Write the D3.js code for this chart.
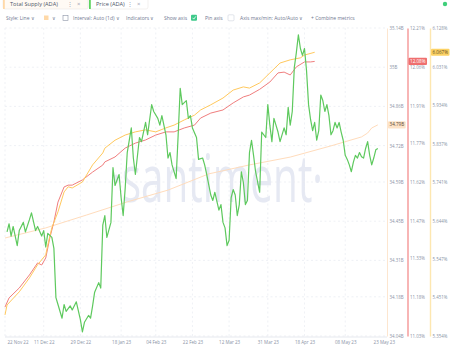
<!DOCTYPE html>
<html>
<head>
<meta charset="utf-8">
<script src="https://cdn.jsdelivr.net/npm/d3@7"></script>
<style>
  body { margin: 0; background: #fff; }
  svg { display: block; font-family: "Open Sans", "Noto Sans", sans-serif; }
</style>
</head>
<body>
<div id="chart"></div>
<script>
// ---- data ----
const xTicks = ["2022-11-22","2022-12-11","2022-12-29","2023-01-18","2023-02-04","2023-02-22",
                "2023-03-12","2023-03-31","2023-04-18","2023-05-08","2023-05-23"];

const supplyTicks = [34.04, 34.18, 34.31, 34.45, 34.59, 34.72, 34.86, 35, 35.14];
const redTicks    = [11.03, 11.18, 11.33, 11.47, 11.62, 11.77, 11.91, 12.06, 12.21];
const yellowTicks = [5.354, 5.451, 5.547, 5.644, 5.741, 5.837, 5.934, 6.031, 6.128];

// Total Supply (ADA), billions
const supply = [
  ["2022-11-22",34.390],["2022-12-12",34.426],["2023-01-01",34.472],["2023-01-21",34.519],
  ["2023-02-10",34.561],["2023-03-02",34.619],["2023-03-22",34.651],["2023-04-11",34.679],
  ["2023-05-01",34.719],["2023-05-16",34.751],["2023-05-19",34.765],["2023-05-21",34.783],
  ["2023-05-24",34.794]
];

// red metric, %
const redSeries = [
  ["2022-11-22",11.141],["2022-11-24",11.176],["2022-11-29",11.214],["2022-12-04",11.264],
  ["2022-12-08",11.310],["2022-12-10",11.302],["2022-12-12",11.329],["2022-12-14",11.406],
  ["2022-12-16",11.467],["2022-12-18",11.543],["2022-12-21",11.601],["2022-12-23",11.608],
  ["2022-12-25",11.608],["2022-12-30",11.628],["2023-01-04",11.658],["2023-01-09",11.685],
  ["2023-01-10",11.697],["2023-01-15",11.716],["2023-01-20",11.750],["2023-01-25",11.769],
  ["2023-01-30",11.781],["2023-02-04",11.800],["2023-02-09",11.812],["2023-02-13",11.812],
  ["2023-02-18",11.827],["2023-02-23",11.838],["2023-02-26",11.865],["2023-03-03",11.884],
  ["2023-03-09",11.896],["2023-03-14",11.923],["2023-03-19",11.946],["2023-03-22",11.953],
  ["2023-03-27",11.975],["2023-04-01",12.003],["2023-04-05",12.038],["2023-04-08",12.041],
  ["2023-04-11",12.030],["2023-04-14",12.061],["2023-04-18",12.080],["2023-04-21",12.080],
  ["2023-04-23",12.082]
];

// yellow metric, %
const yellowSeries = [
  ["2022-11-22",5.407],["2022-11-23",5.432],["2022-11-29",5.465],["2022-12-04",5.500],
  ["2022-12-08",5.533],["2022-12-12",5.558],["2022-12-13",5.583],["2022-12-15",5.626],
  ["2022-12-18",5.666],["2022-12-21",5.716],["2022-12-23",5.729],["2022-12-25",5.726],
  ["2022-12-30",5.741],["2023-01-04",5.784],["2023-01-09",5.814],["2023-01-10",5.826],
  ["2023-01-15",5.846],["2023-01-20",5.859],["2023-01-25",5.867],["2023-01-30",5.872],
  ["2023-02-04",5.867],["2023-02-09",5.877],["2023-02-13",5.884],["2023-02-18",5.897],
  ["2023-02-23",5.909],["2023-02-26",5.922],["2023-03-03",5.935],["2023-03-09",5.952],
  ["2023-03-14",5.972],["2023-03-19",5.980],["2023-03-22",5.977],["2023-03-27",5.990],
  ["2023-04-01",6.015],["2023-04-06",6.040],["2023-04-11",6.048],["2023-04-16",6.053],
  ["2023-04-18",6.060],["2023-04-23",6.067]
];

// Price (ADA), USD
const price = [
  ["2022-11-23",0.316],["2022-11-24",0.322],["2022-11-25",0.313],["2022-11-26",0.320],
  ["2022-11-28",0.306],["2022-11-29",0.317],["2022-12-01",0.323],["2022-12-02",0.316],
  ["2022-12-04",0.325],["2022-12-05",0.330],["2022-12-07",0.317],["2022-12-08",0.320],
  ["2022-12-10",0.313],["2022-12-11",0.317],["2022-12-12",0.305],["2022-12-13",0.315],
  ["2022-12-15",0.312],["2022-12-16",0.304],["2022-12-17",0.268],["2022-12-18",0.263],
  ["2022-12-20",0.253],["2022-12-21",0.263],["2022-12-22",0.258],["2022-12-24",0.262],
  ["2022-12-25",0.259],["2022-12-27",0.265],["2022-12-29",0.252],["2022-12-30",0.243],
  ["2022-12-31",0.250],["2023-01-02",0.255],["2023-01-03",0.253],["2023-01-04",0.262],
  ["2023-01-05",0.272],["2023-01-07",0.279],["2023-01-08",0.275],["2023-01-09",0.321],
  ["2023-01-10",0.328],["2023-01-11",0.312],["2023-01-13",0.323],["2023-01-14",0.363],
  ["2023-01-15",0.350],["2023-01-17",0.358],["2023-01-18",0.341],["2023-01-19",0.328],
  ["2023-01-20",0.348],["2023-01-21",0.374],["2023-01-23",0.392],["2023-01-24",0.370],
  ["2023-01-25",0.358],["2023-01-27",0.385],["2023-01-28",0.382],["2023-01-30",0.396],
  ["2023-01-31",0.387],["2023-02-02",0.409],["2023-02-03",0.404],["2023-02-05",0.399],
  ["2023-02-06",0.394],["2023-02-07",0.401],["2023-02-09",0.387],["2023-02-10",0.370],
  ["2023-02-11",0.374],["2023-02-12",0.365],["2023-02-14",0.355],["2023-02-15",0.387],
  ["2023-02-16",0.421],["2023-02-17",0.409],["2023-02-19",0.412],["2023-02-20",0.399],
  ["2023-02-21",0.401],["2023-02-22",0.392],["2023-02-24",0.385],["2023-02-25",0.369],
  ["2023-02-27",0.370],["2023-02-28",0.365],["2023-03-01",0.358],["2023-03-03",0.343],
  ["2023-03-04",0.339],["2023-03-05",0.345],["2023-03-07",0.332],["2023-03-08",0.336],
  ["2023-03-09",0.323],["2023-03-10",0.319],["2023-03-11",0.306],["2023-03-12",0.310],
  ["2023-03-13",0.341],["2023-03-14",0.347],["2023-03-15",0.343],["2023-03-16",0.328],
  ["2023-03-17",0.336],["2023-03-18",0.360],["2023-03-19",0.352],["2023-03-20",0.336],
  ["2023-03-21",0.339],["2023-03-22",0.374],["2023-03-23",0.383],["2023-03-24",0.372],
  ["2023-03-25",0.360],["2023-03-27",0.345],["2023-03-28",0.389],["2023-03-30",0.385],
  ["2023-03-31",0.409],["2023-04-01",0.394],["2023-04-02",0.382],["2023-04-03",0.399],
  ["2023-04-04",0.394],["2023-04-05",0.389],["2023-04-06",0.382],["2023-04-08",0.392],
  ["2023-04-09",0.387],["2023-04-10",0.407],["2023-04-11",0.394],["2023-04-12",0.404],
  ["2023-04-13",0.436],["2023-04-14",0.447],["2023-04-15",0.460],["2023-04-16",0.450],
  ["2023-04-17",0.445],["2023-04-18",0.450],["2023-04-19",0.434],["2023-04-20",0.409],
  ["2023-04-21",0.398],["2023-04-22",0.390],["2023-04-23",0.396],["2023-04-24",0.383],
  ["2023-04-25",0.390],["2023-04-26",0.416],["2023-04-27",0.412],["2023-04-28",0.404],
  ["2023-04-29",0.409],["2023-04-30",0.401],["2023-05-01",0.387],["2023-05-02",0.390],
  ["2023-05-03",0.396],["2023-05-04",0.392],["2023-05-05",0.396],["2023-05-06",0.389],
  ["2023-05-07",0.383],["2023-05-08",0.372],["2023-05-09",0.369],["2023-05-10",0.365],
  ["2023-05-11",0.360],["2023-05-12",0.367],["2023-05-13",0.372],["2023-05-14",0.370],
  ["2023-05-15",0.374],["2023-05-16",0.371],["2023-05-17",0.370],["2023-05-18",0.377],
  ["2023-05-19",0.382],["2023-05-20",0.372],["2023-05-21",0.365],["2023-05-22",0.370],
  ["2023-05-23",0.376],["2023-05-24",0.377]
];

// ---- layout ----
const width = 460, height = 350;
const plot = { left: 5, right: 387, top: 28, bottom: 336 };
const parse = d3.utcParse("%Y-%m-%d");
const fmtDate = d3.utcFormat("%d %b %y");
const FONT = '"Open Sans", "Noto Sans", sans-serif';

const svg = d3.select("#chart").append("svg")
  .attr("width", width).attr("height", height);

const x = d3.scaleTime()
  .domain([parse("2022-11-22"), new Date(Date.UTC(2023, 4, 28, 12))])
  .range([plot.left, plot.right]);
const ySupply = d3.scaleLinear().domain([34.04, 35.14]).range([plot.bottom, plot.top]);
const yRed    = d3.scaleLinear().domain([11.03, 12.21]).range([plot.bottom, plot.top]);
const yYellow = d3.scaleLinear().domain([5.354, 6.128]).range([plot.bottom, plot.top]);
const yPrice  = d3.scaleLinear().domain([0.24, 0.465]).range([plot.bottom, plot.top]);

const tickDates = xTicks.map(parse);

// header: metric chips (partly cut off at the top)
function chip(x0, w, bar, label, bg) {
  const g = svg.append("g");
  g.append("rect").attr("x", x0).attr("y", -8).attr("width", w).attr("height", 17)
    .attr("rx", 2).attr("fill", bg).attr("stroke", "#ebe8e4").attr("stroke-width", 0.6);
  g.append("rect").attr("x", x0).attr("y", -8).attr("width", 1.8).attr("height", 17).attr("fill", bar);
  g.append("text").attr("x", x0 + 7).attr("y", 6).attr("font-size", 5.6).attr("fill", "#4e5668").text(label);
  g.append("text").attr("x", x0 + w - 21).attr("y", 6).attr("font-size", 5.6).attr("fill", "#9aa1b1").text("⋮");
  g.append("text").attr("x", x0 + w - 11).attr("y", 6).attr("font-size", 6).attr("fill", "#9aa1b1").text("×");
}
chip(3, 85, "#ffd9a8", "Total Supply (ADA)", "#fffaf4");
chip(89, 59, "#5fd35f", "Price (ADA)", "#ffffff");
svg.append("circle").attr("cx", 445).attr("cy", 4).attr("r", 2.2).attr("fill", "#3fcf7a");

// toolbar row
const bar = svg.append("g").attr("font-size", 5).attr("fill", "#6f7890");
const tb = (tx, t) => bar.append("text").attr("x", tx).attr("y", 20).text(t);
tb(6, "Style: Line  ∨");
bar.append("rect").attr("x", 44).attr("y", 15.5).attr("width", 4.5).attr("height", 4.5).attr("fill", "#ffd9a8");
tb(52, "∨");
bar.append("rect").attr("x", 63).attr("y", 15.5).attr("width", 5).attr("height", 5)
  .attr("fill", "none").attr("stroke", "#8a93a6").attr("stroke-width", 0.6);
tb(73, "Interval: Auto (1d)  ∨");
tb(126, "Indicators  ∨");
tb(164, "Show axis");
bar.append("rect").attr("x", 191).attr("y", 14.8).attr("width", 6).attr("height", 6).attr("rx", 1).attr("fill", "#3ec98a");
bar.append("path").attr("d", "M192.5,17.8 L193.8,19.1 L195.9,16.3").attr("fill", "none")
  .attr("stroke", "#fff").attr("stroke-width", 0.8);
tb(205, "Pin axis");
bar.append("rect").attr("x", 228).attr("y", 14.8).attr("width", 6).attr("height", 6).attr("rx", 1)
  .attr("fill", "#fff").attr("stroke", "#cfd4de").attr("stroke-width", 0.6);
tb(240, "Axis max/min: Auto/Auto  ∨");
tb(311, "+   Combine metrics");

// watermark (condensed by a horizontal scale so its box stays inside the plot)
const wm = svg.append("text").attr("font-size", 66).attr("fill", "#e6e9f3").text("·santiment·");
const wmLen = wm.node().getComputedTextLength();
wm.attr("transform", `translate(111,202) scale(${212 / wmLen},1)`);

// gridlines
svg.append("g").selectAll("line").data(supplyTicks).join("line")
  .attr("x1", plot.left).attr("x2", plot.right)
  .attr("y1", d => ySupply(d)).attr("y2", d => ySupply(d))
  .attr("stroke", "#e8ebf1").attr("stroke-width", 0.7).attr("stroke-dasharray", "2,2.5");
svg.append("g").selectAll("line").data(tickDates.slice(0, -1)).join("line")
  .attr("x1", d => x(d)).attr("x2", d => x(d))
  .attr("y1", plot.top).attr("y2", plot.bottom)
  .attr("stroke", "#e8ebf1").attr("stroke-width", 0.7).attr("stroke-dasharray", "2,2.5");

// bottom axis
const xAxis = svg.append("g").attr("transform", `translate(0,${plot.bottom + 1})`)
  .call(d3.axisBottom(x).tickValues(tickDates).tickFormat(fmtDate).tickSize(0).tickPadding(4))
  .attr("font-family", FONT).attr("font-size", 4.5);
xAxis.select(".domain").attr("stroke", "#e6e9ef").attr("d", `M${plot.left},0H${plot.right}`);
xAxis.selectAll("text").attr("font-size", 4.5).attr("fill", "#8a93a6");
xAxis.selectAll(".tick").filter((d, i) => i === 0).select("text").attr("text-anchor", "start").attr("dx", 2);
xAxis.selectAll(".tick").filter((d, i) => i === tickDates.length - 1).select("text").attr("dx", 8);

// right axes
function rightAxis(ax, scale, ticks, fmt, color, sw) {
  const g = svg.append("g").attr("transform", `translate(${ax},0)`)
    .call(d3.axisRight(scale).tickValues(ticks).tickFormat(fmt).tickSize(0).tickPadding(2.5))
    .attr("font-family", FONT).attr("font-size", 4.4);
  g.select(".domain").attr("stroke", color).attr("stroke-width", sw);
  g.selectAll("text").attr("font-size", 4.4).attr("fill", "#8a93a6");
}
rightAxis(387, ySupply, supplyTicks, d => `${+d.toFixed(2)}B`, "#fde6cf", 1);
rightAxis(407.5, yRed, redTicks, d => d.toFixed(2) + "%", "#f6a3a3", 1.6);
rightAxis(430, yYellow, yellowTicks, d => d.toFixed(3) + "%", "#fde7b0", 1.4);

// lines
function drawLine(data, yScale, color, w) {
  svg.append("path")
    .datum(data.map(([d, v]) => [parse(d), v]))
    .attr("fill", "none").attr("stroke", color).attr("stroke-width", w)
    .attr("stroke-linejoin", "round")
    .attr("d", d3.line().x(d => x(d[0])).y(d => yScale(d[1])));
}
drawLine(supply, ySupply, "#ffdcbc", 1);
drawLine(redSeries, yRed, "#f07e7e", 1);
drawLine(yellowSeries, yYellow, "#ffc95e", 1);
drawLine(price, yPrice, "#5ec95e", 1.2);

// last-value badges
function badge(ax, yv, label, bg, fg) {
  const g = svg.append("g");
  const t = g.append("text").attr("x", ax + 2.5).attr("y", yv).attr("dy", "0.35em")
    .attr("font-size", 4.6).attr("fill", fg).text(label);
  const w = t.node().getComputedTextLength();
  g.insert("rect", "text").attr("x", ax + 1).attr("y", yv - 3.6).attr("width", w + 3).attr("height", 7.2)
    .attr("rx", 1).attr("fill", bg);
}
const last = a => a[a.length - 1][1];
badge(387, ySupply(last(supply)), `${last(supply).toFixed(2)}B`, "#fde3c8", "#5a4a3a");
badge(407.5, yRed(last(redSeries)), `${last(redSeries).toFixed(2)}%`, "#ef6f6f", "#fff");
badge(430, yYellow(last(yellowSeries)), `${last(yellowSeries).toFixed(3)}%`, "#fcd265", "#5a4a20");
</script>
</body>
</html>
